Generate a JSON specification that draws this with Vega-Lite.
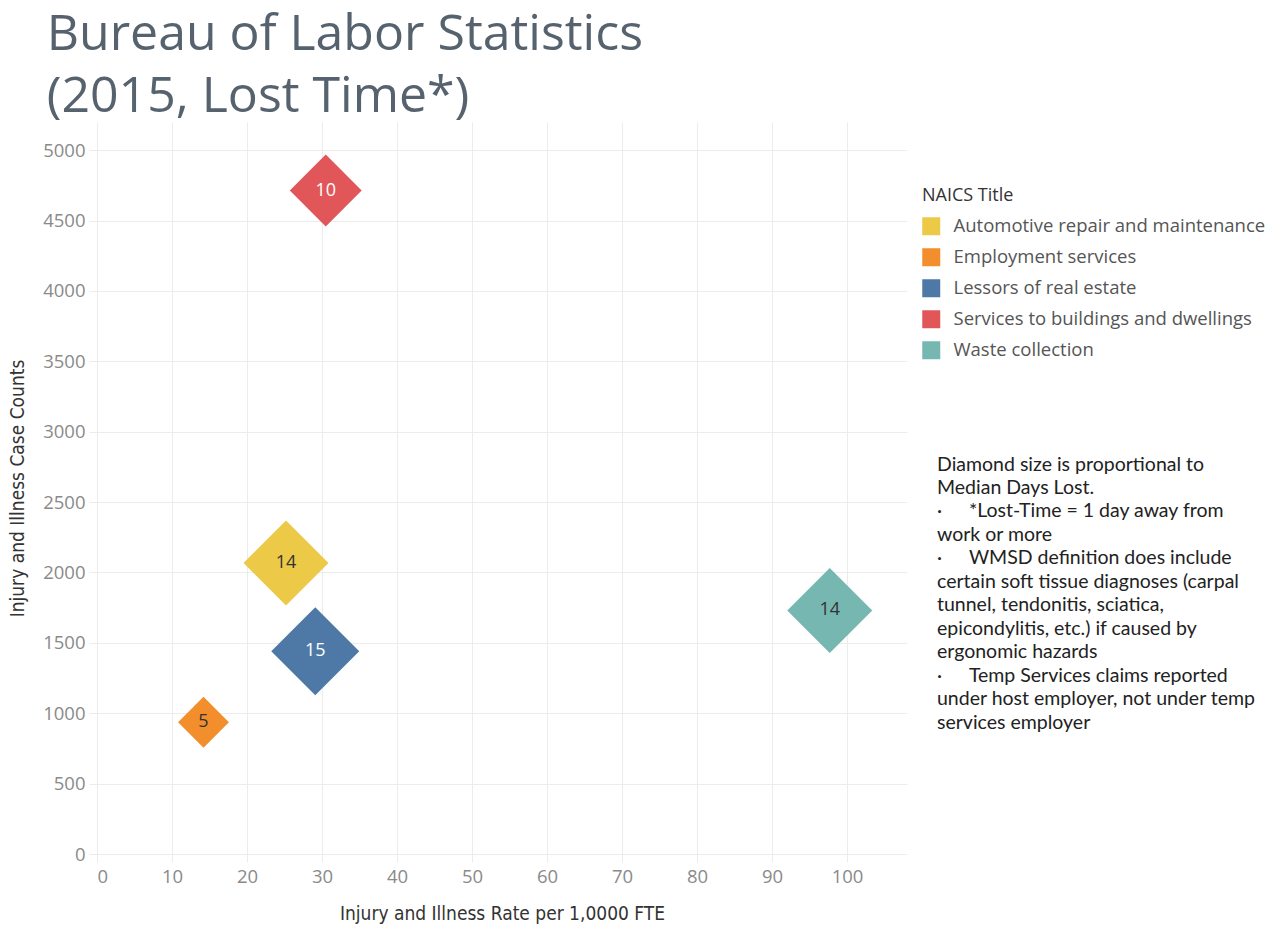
{
  "$schema": "https://vega.github.io/schema/vega-lite/v6.json",
  "background": "white",
  "padding": {"left": 8, "top": 10, "right": 0, "bottom": 0},
  "title": {
    "text": ["Bureau of Labor Statistics", "(2015, Lost Time*)"],
    "anchor": "start",
    "frame": "bounds",
    "dx": 38,
    "font": "Open Sans",
    "fontSize": 50,
    "lineHeight": 62,
    "fontWeight": "normal",
    "color": "#56636f",
    "offset": 0
  },
  "config": {"view": {"stroke": null}, "font": "Open Sans"},
  "datasets": {
    "industries": [
      {"naics": "Automotive repair and maintenance", "rate": 25.2, "cases": 2067, "days": 14},
      {"naics": "Employment services", "rate": 14.2, "cases": 936, "days": 5},
      {"naics": "Lessors of real estate", "rate": 29.1, "cases": 1440, "days": 15},
      {"naics": "Services to buildings and dwellings", "rate": 30.5, "cases": 4713, "days": 10},
      {"naics": "Waste collection", "rate": 97.7, "cases": 1730, "days": 14}
    ],
    "notes": [
      {"line": 1, "text": "Diamond size is proportional to"},
      {"line": 2, "text": "Median Days Lost."},
      {"line": 3, "text": "·\u2003\u2002\u2009*Lost-Time = 1 day away from"},
      {"line": 4, "text": "work or more"},
      {"line": 5, "text": "·\u2003\u2002\u2009WMSD definition does include"},
      {"line": 6, "text": "certain soft tissue diagnoses (carpal"},
      {"line": 7, "text": "tunnel, tendonitis, sciatica,"},
      {"line": 8, "text": "epicondylitis, etc.) if caused by"},
      {"line": 9, "text": "ergonomic hazards"},
      {"line": 10, "text": "·\u2003\u2002\u2009Temp Services claims reported"},
      {"line": 11, "text": "under host employer, not under temp"},
      {"line": 12, "text": "services employer"}
    ]
  },
  "spacing": 30,
  "hconcat": [
    {
      "width": 810,
      "height": 732,
      "data": {"name": "industries"},
      "encoding": {
        "x": {
          "field": "rate",
          "type": "quantitative",
          "scale": {"domain": [0, 108], "nice": false, "zero": false},
          "axis": {
            "values": [0, 10, 20, 30, 40, 50, 60, 70, 80, 90, 100],
            "format": "d",
            "title": "Injury and Illness Rate per 1,0000 FTE",
            "grid": true,
            "gridColor": "#ececec",
            "ticks": true,
            "tickSize": 8,
            "tickColor": "#ececec",
            "domain": false,
            "labelColor": "#8a8a8a",
            "labelFontSize": 18.5,
            "labelPadding": 5,
            "titleFont": "'DejaVu Sans Condensed', 'Liberation Sans Narrow', Roboto, sans-serif",
            "titleFontSize": 19,
            "titleFontWeight": "normal",
            "titleColor": "#333333",
            "titlePadding": 19
          }
        },
        "y": {
          "field": "cases",
          "type": "quantitative",
          "scale": {"domain": [0, 5200], "nice": false},
          "axis": {
            "values": [0, 500, 1000, 1500, 2000, 2500, 3000, 3500, 4000, 4500, 5000],
            "format": "d",
            "title": "Injury and Illness Case Counts",
            "grid": true,
            "gridColor": "#ececec",
            "ticks": true,
            "tickSize": 8,
            "tickColor": "#ececec",
            "domain": false,
            "labelColor": "#8a8a8a",
            "labelFontSize": 18.5,
            "labelPadding": 4,
            "titleFont": "'DejaVu Sans Condensed', 'Liberation Sans Narrow', Roboto, sans-serif",
            "titleFontSize": 19,
            "titleFontWeight": "normal",
            "titleColor": "#333333",
            "titlePadding": 15
          }
        }
      },
      "layer": [
        {
          "mark": {"type": "point", "shape": "diamond", "filled": true, "opacity": 1},
          "encoding": {
            "color": {
              "field": "naics",
              "type": "nominal",
              "scale": {
                "domain": ["Automotive repair and maintenance", "Employment services", "Lessors of real estate", "Services to buildings and dwellings", "Waste collection"],
                "range": ["#edc948", "#f28e2b", "#4e79a7", "#e15759", "#76b7b2"]
              },
              "legend": {
                "orient": "none",
                "legendX": 825,
                "legendY": 65,
                "title": "NAICS Title",
                "symbolType": "square",
                "symbolSize": 324,
                "symbolStrokeWidth": 0,
                "labelFontSize": 18.5,
                "labelColor": "#555555",
                "labelOffset": 13,
                "labelLimit": 400,
                "rowPadding": 12,
                "titleFontSize": 18,
                "titleColor": "#333333",
                "titleFontWeight": "normal",
                "titlePadding": 12
              }
            },
            "size": {
              "field": "days",
              "type": "quantitative",
              "scale": {"type": "linear", "zero": true, "domain": [0, 15], "range": [0, 7750]},
              "legend": null
            }
          }
        },
        {
          "mark": {"type": "text", "fontSize": 18, "font": "Open Sans"},
          "encoding": {
            "text": {"field": "days", "type": "quantitative"},
            "color": {
              "condition": {"test": "datum.naics === 'Services to buildings and dwellings' || datum.naics === 'Lessors of real estate'", "value": "#ffffff"},
              "value": "#333333"
            }
          }
        }
      ]
    },
    {
      "width": 320,
      "height": 732,
      "data": {"name": "notes"},
      "mark": {"type": "text", "align": "left", "baseline": "middle", "font": "Lato", "fontSize": 19.5, "color": "#222222"},
      "encoding": {
        "x": {"datum": 0, "type": "quantitative", "scale": {"domain": [0, 1]}, "axis": null},
        "y": {"field": "line", "type": "quantitative", "scale": {"domain": [-13.6, 17.6], "reverse": true, "nice": false, "zero": false}, "axis": null},
        "text": {"field": "text"}
      }
    }
  ]
}
